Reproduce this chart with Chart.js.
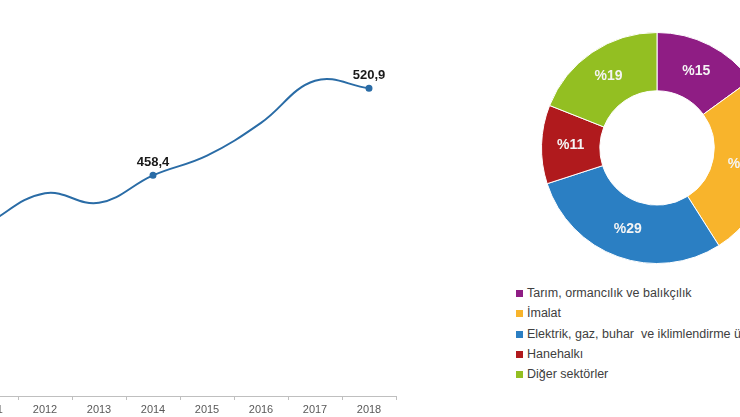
<!DOCTYPE html>
<html>
<head>
<meta charset="utf-8">
<script src="https://cdn.jsdelivr.net/npm/chart.js@4.4.1/dist/chart.umd.min.js"></script>
<style>
  html, body { margin: 0; padding: 0; background: #fff; }
  #wrap { position: relative; width: 740px; height: 417px; overflow: hidden; }
  #lineBox { position: absolute; left: -99px; top: 0; width: 500px; height: 417px; }
  #pieBox { position: absolute; left: 541px; top: 32px; width: 232px; height: 232px; }
  #legend { position: absolute; left: 516px; top: 283px; font-family: "Liberation Sans", Arial, sans-serif;
            font-size: 12.5px; color: #404040; white-space: pre; }
  #legend div { height: 20.3px; line-height: 20.3px; }
  #legend span.box { display: inline-block; width: 7px; height: 7px; margin-right: 4px; vertical-align: 0px; }
</style>
</head>
<body>
<div id="wrap">
  <div id="lineBox"><canvas id="lineChart"></canvas></div>
  <div id="pieBox"><canvas id="pieChart"></canvas></div>
  <div id="legend"></div>
</div>
<script>
// yearly totals (million tonnes CO2 eq.)
const years = ["2010", "2011", "2012", "2013", "2014", "2015", "2016", "2017", "2018"];
const totals = [398.8, 425.1, 445.6, 438.7, 458.4, 472.6, 496.1, 526.3, 520.9];
const labelledYears = ["2014", "2018"];

// sector shares, 2018
const sectors = [
  "Tarım, ormancılık ve balıkçılık",
  "İmalat",
  "Elektrik, gaz, buhar  ve iklimlendirme üretimi",
  "Hanehalkı",
  "Diğer sektörler"
];
const shares = [15, 26, 29, 11, 19];
const sectorColors = ["#8f1d84", "#f8b42c", "#2b7fc3", "#b01a1d", "#93bf22"];

const fmt = (v) => v.toFixed(1).replace(".", ",");

const pointLabels = {
  id: "pointLabels",
  afterDatasetsDraw(chart) {
    const ctx = chart.ctx;
    const meta = chart.getDatasetMeta(0);
    ctx.save();
    ctx.font = "bold 13px 'Liberation Sans', Arial, sans-serif";
    ctx.fillStyle = "#1a1a1a";
    ctx.textAlign = "center";
    ctx.textBaseline = "bottom";
    years.forEach((y, i) => {
      if (!labelledYears.includes(y)) return;
      const p = meta.data[i];
      ctx.fillText(fmt(totals[i]), p.x, p.y - 6);
    });
    ctx.restore();
  }
};

new Chart(document.getElementById("lineChart"), {
  type: "line",
  data: {
    labels: years,
    datasets: [{
      data: totals,
      borderColor: "#2a6ca6",
      backgroundColor: "#2a6ca6",
      borderWidth: 2,
      tension: 0.4,
      pointRadius: years.map((y) => (labelledYears.includes(y) ? 2.5 : 0)),
      pointHoverRadius: 0
    }]
  },
  options: {
    responsive: true,
    maintainAspectRatio: false,
    animation: false,
    layout: { padding: { left: 9, right: 5, top: 6, bottom: 0 } },
    plugins: { legend: { display: false }, tooltip: { enabled: false } },
    scales: {
      x: {
        offset: true,
        grid: { offset: true, drawOnChartArea: false, tickLength: 4, color: "#bfbfbf" },
        border: { color: "#bfbfbf" },
        ticks: { autoSkip: false, maxRotation: 0, color: "#595959", font: { size: 11, family: "'Liberation Sans', Arial, sans-serif" }, padding: 3 },
        afterFit(scale) { scale.height = 21; }
      },
      y: { display: false, min: 300, max: 580 }
    }
  },
  plugins: [pointLabels]
});

const sliceLabels = {
  id: "sliceLabels",
  afterDatasetsDraw(chart) {
    const ctx = chart.ctx;
    const meta = chart.getDatasetMeta(0);
    ctx.save();
    ctx.font = "bold 14px 'Liberation Sans', Arial, sans-serif";
    ctx.fillStyle = "#f4f4f4";
    ctx.textAlign = "center";
    ctx.textBaseline = "middle";
    meta.data.forEach((arc, i) => {
      const p = arc.tooltipPosition();
      ctx.fillText("%" + shares[i], p.x, p.y);
    });
    ctx.restore();
  }
};

const pie = new Chart(document.getElementById("pieChart"), {
  type: "doughnut",
  data: {
    labels: sectors,
    datasets: [{
      data: shares,
      backgroundColor: sectorColors,
      borderColor: "#ffffff",
      borderWidth: 1
    }]
  },
  options: {
    responsive: true,
    maintainAspectRatio: false,
    animation: false,
    cutout: "49.5%",
    plugins: { legend: { display: false }, tooltip: { enabled: false } }
  },
  plugins: [sliceLabels]
});

// legend built from the chart's own labels and colours
const legend = document.getElementById("legend");
pie.data.labels.forEach((lab, i) => {
  const row = document.createElement("div");
  const box = document.createElement("span");
  box.className = "box";
  box.style.background = pie.data.datasets[0].backgroundColor[i];
  row.appendChild(box);
  row.appendChild(document.createTextNode(lab));
  legend.appendChild(row);
});
</script>
</body>
</html>
